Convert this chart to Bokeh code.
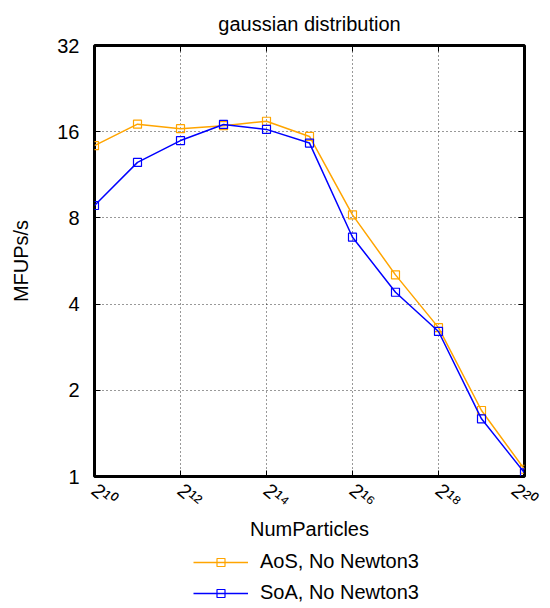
from bokeh.plotting import figure
from bokeh.layouts import column
from bokeh.models import Range1d, FixedTicker, LogAxis, Legend, LegendItem
from bokeh.embed import file_html
from bokeh.resources import INLINE

# ---- data ----
num_particles = [1024, 2048, 4096, 8192, 16384, 32768, 65536, 131072, 262144, 524288, 1048576]
aos_no_newton3 = [14.3, 17.0, 16.4, 16.8, 17.4, 15.4, 8.2, 5.06, 3.31, 1.70, 1.06]
soa_no_newton3 = [8.84, 12.5, 14.9, 16.96, 16.3, 14.6, 6.85, 4.40, 3.21, 1.59, 1.03]

x_ticks = [1024, 4096, 16384, 65536, 262144, 1048576]
x_tick_labels = ["2¹⁰", "2¹²", "2¹⁴", "2¹⁶", "2¹⁸", "2²⁰"]
y_ticks = [1, 2, 4, 8, 16, 32]
y_tick_labels = ["1", "2", "4", "8", "16", "32"]

series_names = ["AoS, No Newton3", "SoA, No Newton3"]
series_colors = ["#FFA500", "#0000FF"]
series_values = [aos_no_newton3, soa_no_newton3]

FONT = "Liberation Sans"
FS = "20px"

p = figure(width=540, height=550, x_axis_type="log", y_axis_type="log",
           x_range=Range1d(x_ticks[0], x_ticks[-1]), y_range=Range1d(y_ticks[0], y_ticks[-1]),
           output_backend="svg", toolbar_location=None,
           title="gaussian distribution",
           min_border_left=94, min_border_right=16, min_border_top=45, min_border_bottom=74)

p.background_fill_color = "white"
p.border_fill_color = "white"
p.outline_line_color = "black"
p.outline_line_width = 3

p.title.align = "center"
p.title.vertical_align = "top"
p.title.text_font = FONT
p.title.text_font_size = FS
p.title.text_font_style = "normal"
p.title.text_color = "black"
p.title.standoff = 17

xt = FixedTicker(ticks=x_ticks)
yt = FixedTicker(ticks=y_ticks)

xa = p.xaxis[0]
xa.ticker = xt
xa.major_label_overrides = {t: s for t, s in zip(x_ticks, x_tick_labels)}
xa.major_label_orientation = -0.7
xa.axis_label = "NumParticles"

ya = p.yaxis[0]
ya.ticker = yt
ya.major_label_overrides = {t: s for t, s in zip(y_ticks, y_tick_labels)}
ya.axis_label = "MFUPs/s"

for ax in (xa, ya):
    ax.axis_line_color = None
    ax.major_tick_in = 6
    ax.major_tick_out = 0
    ax.major_tick_line_color = "black"
    ax.minor_tick_line_color = None
    ax.major_label_text_font = FONT
    ax.major_label_text_font_size = FS
    ax.major_label_text_color = "black"
    ax.axis_label_text_font = FONT
    ax.axis_label_text_font_size = FS
    ax.axis_label_text_font_style = "normal"
    ax.axis_label_text_color = "black"

xa.major_label_standoff = 11
xa.axis_label_standoff = -6
ya.major_label_standoff = 15
ya.axis_label_standoff = 22

# mirrored tick marks on top and right
for side, tk in (("right", yt), ("above", xt)):
    ax = LogAxis(ticker=tk)
    ax.axis_line_color = None
    ax.major_tick_in = 6
    ax.major_tick_out = 0
    ax.minor_tick_line_color = None
    ax.major_label_text_font_size = "0px"
    ax.major_label_standoff = 0
    ax.major_label_overrides = {t: "" for t in tk.ticks}
    p.add_layout(ax, side)

p.xgrid.ticker = xt
p.ygrid.ticker = yt
for g in (p.xgrid, p.ygrid):
    g.grid_line_color = "black"
    g.grid_line_dash = "1 3"
    g.grid_line_width = 1
    g.grid_line_alpha = 0.8

for vals, col in zip(series_values, series_colors):
    p.line(num_particles, vals, line_color=col, line_width=1.5)
    p.scatter(num_particles, vals, marker="square", size=8, line_color=col,
              fill_color=None, line_width=1.2)

# ---- legend strip below the plot ----
lf = figure(width=540, height=58, x_axis_type="log", y_axis_type="log",
            x_range=Range1d(x_ticks[0], x_ticks[-1]), y_range=Range1d(y_ticks[0], y_ticks[-1]),
            output_backend="svg", toolbar_location=None,
            x_axis_location=None, y_axis_location=None,
            min_border_left=0, min_border_right=0, min_border_top=0, min_border_bottom=0)
lf.outline_line_color = None
lf.grid.visible = False
lf.background_fill_color = "white"
lf.border_fill_color = "white"

items = []
for name, vals, col in zip(series_names, series_values, series_colors):
    r1 = lf.line(num_particles, vals, line_color=col, line_width=1.5, visible=False)
    r2 = lf.scatter(num_particles, vals, marker="square", size=8, line_color=col,
                    fill_color=None, line_width=1.2, visible=False)
    items.append(LegendItem(label=name, renderers=[r1, r2]))

legend = Legend(items=items, location=(99, 4), orientation="vertical",
                label_height=20, glyph_height=20, glyph_width=55, spacing=8,
                padding=0, margin=0, label_standoff=12,
                border_line_color=None, background_fill_alpha=0,
                inactive_fill_alpha=0,
                label_text_font=FONT, label_text_font_size=FS, label_text_color="black")
lf.add_layout(legend)

open("out.html", "w").write(file_html(column(p, lf), INLINE))
